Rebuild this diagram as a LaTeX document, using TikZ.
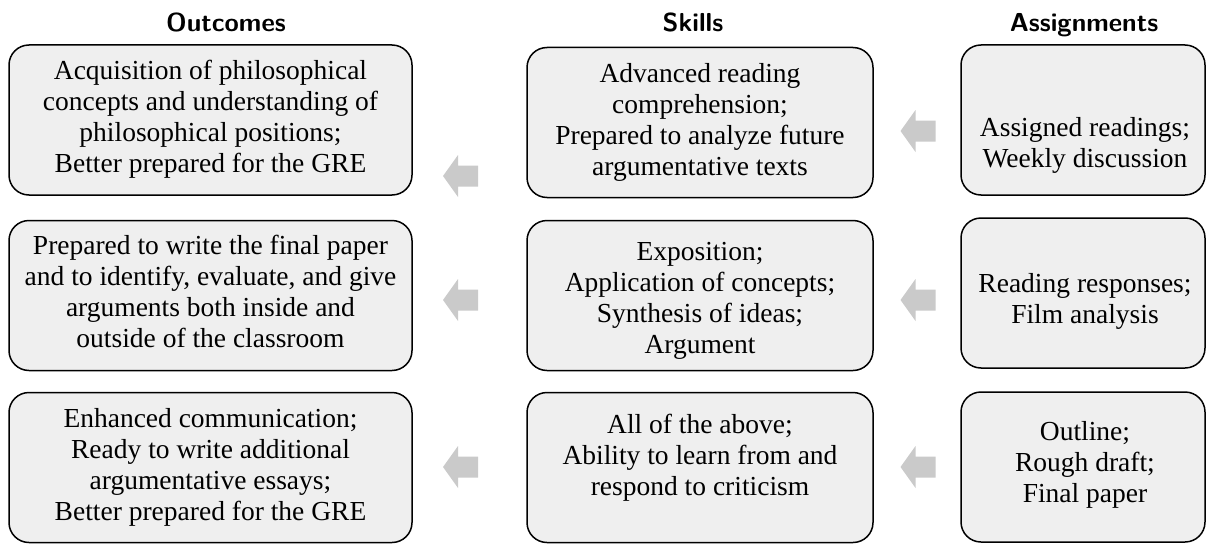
\documentclass[tikz,border=0pt]{standalone}
\usepackage{fontspec}
\setmainfont{Liberation Serif}
\definecolor{boxfill}{HTML}{EFEFEF}
\definecolor{arrowgray}{HTML}{CACACA}
\tikzset{
  card/.style={draw=black, line width=1.5pt, fill=boxfill, rounded corners=20pt, inner sep=0pt},
  outcard/.style={card, minimum width=403pt, minimum height=150pt},
  skillcard/.style={card, minimum width=346pt, minimum height=150pt},
  assigncard/.style={card, minimum width=244pt, minimum height=150pt},
  cardtext/.style={anchor=north, inner sep=0pt, align=center, font=\fontsize{27.5}{31}\selectfont},
  coltitle/.style={anchor=base, inner sep=0pt, font=\fontsize{26}{30}\selectfont\sffamily\bfseries},
  blockarr/.pic={\fill[arrowgray] (-17.5,0) -- (-2.5,-21) -- (-2.5,-10.5) -- (17.5,-10.5) -- (17.5,10.5) -- (-2.5,10.5) -- (-2.5,21) -- cycle;}
}
\begin{document}
\begin{tikzpicture}[x=1pt,y=-1pt]
\useasboundingbox (0,0) rectangle (1206,543);

% column titles
\node[coltitle] (tout) at (226,32) {Outcomes};
\node[coltitle] (tskill) at (693,32) {Skills};
\node[coltitle] (tassign) at (1084,32) {Assignments};

% boxes
\node[outcard] (o1) at (210.5,120) {};
\node[outcard] (o2) at (210.5,295.5) {};
\node[outcard] (o3) at (210.5,467.5) {};
\node[skillcard] (s1) at (700,122.5) {};
\node[skillcard] (s2) at (700,295.5) {};
\node[skillcard] (s3) at (700,467.5) {};
\node[assigncard] (a1) at (1083,120) {};
\node[assigncard] (a2) at (1083,293) {};
\node[assigncard] (a3) at (1083,467) {};

% texts
\node[cardtext] (o1t) at (210.5,57.3) {\strut Acquisition of philosophical\\\strut concepts and understanding of\\\strut philosophical positions;\\\strut Better prepared for the GRE};
\node[cardtext] (o2t) at (210.5,232.3) {\strut Prepared to write the final paper\\\strut and to identify, evaluate, and give\\\strut arguments both inside and\\\strut outside of the classroom};
\node[cardtext] (o3t) at (210.5,405.3) {\strut Enhanced communication;\\\strut Ready to write additional\\\strut argumentative essays;\\\strut Better prepared for the GRE};

\node[cardtext] (s1t) at (700,60.3) {\strut Advanced reading\\\strut comprehension;\\\strut Prepared to analyze future\\\strut argumentative texts};
\node[cardtext] (s2t) at (700,238.3) {\strut Exposition;\\\strut Application of concepts;\\\strut Synthesis of ideas;\\\strut Argument};
\node[cardtext] (s3t) at (700,411.3) {\strut All of the above;\\\strut Ability to learn from and\\\strut respond to criticism};

\node[cardtext] (a1t) at (1085,114.3) {\strut Assigned readings;\\\strut Weekly discussion};
\node[cardtext] (a2t) at (1085,270.3) {\strut Reading responses;\\\strut Film analysis};
\node[cardtext] (a3t) at (1085,418.3) {\strut Outline;\\\strut Rough draft;\\\strut Final paper};

% block arrows
\coordinate (ar1l) at (460.5,176);
\coordinate (ar2l) at (460.5,300);
\coordinate (ar3l) at (460.5,467);
\coordinate (ar1r) at (918,131);
\coordinate (ar2r) at (918,300);
\coordinate (ar3r) at (918,467);
\foreach \c in {ar1l,ar2l,ar3l,ar1r,ar2r,ar3r}{
  \pic at (\c) {blockarr};
}
\end{tikzpicture}
\end{document}
